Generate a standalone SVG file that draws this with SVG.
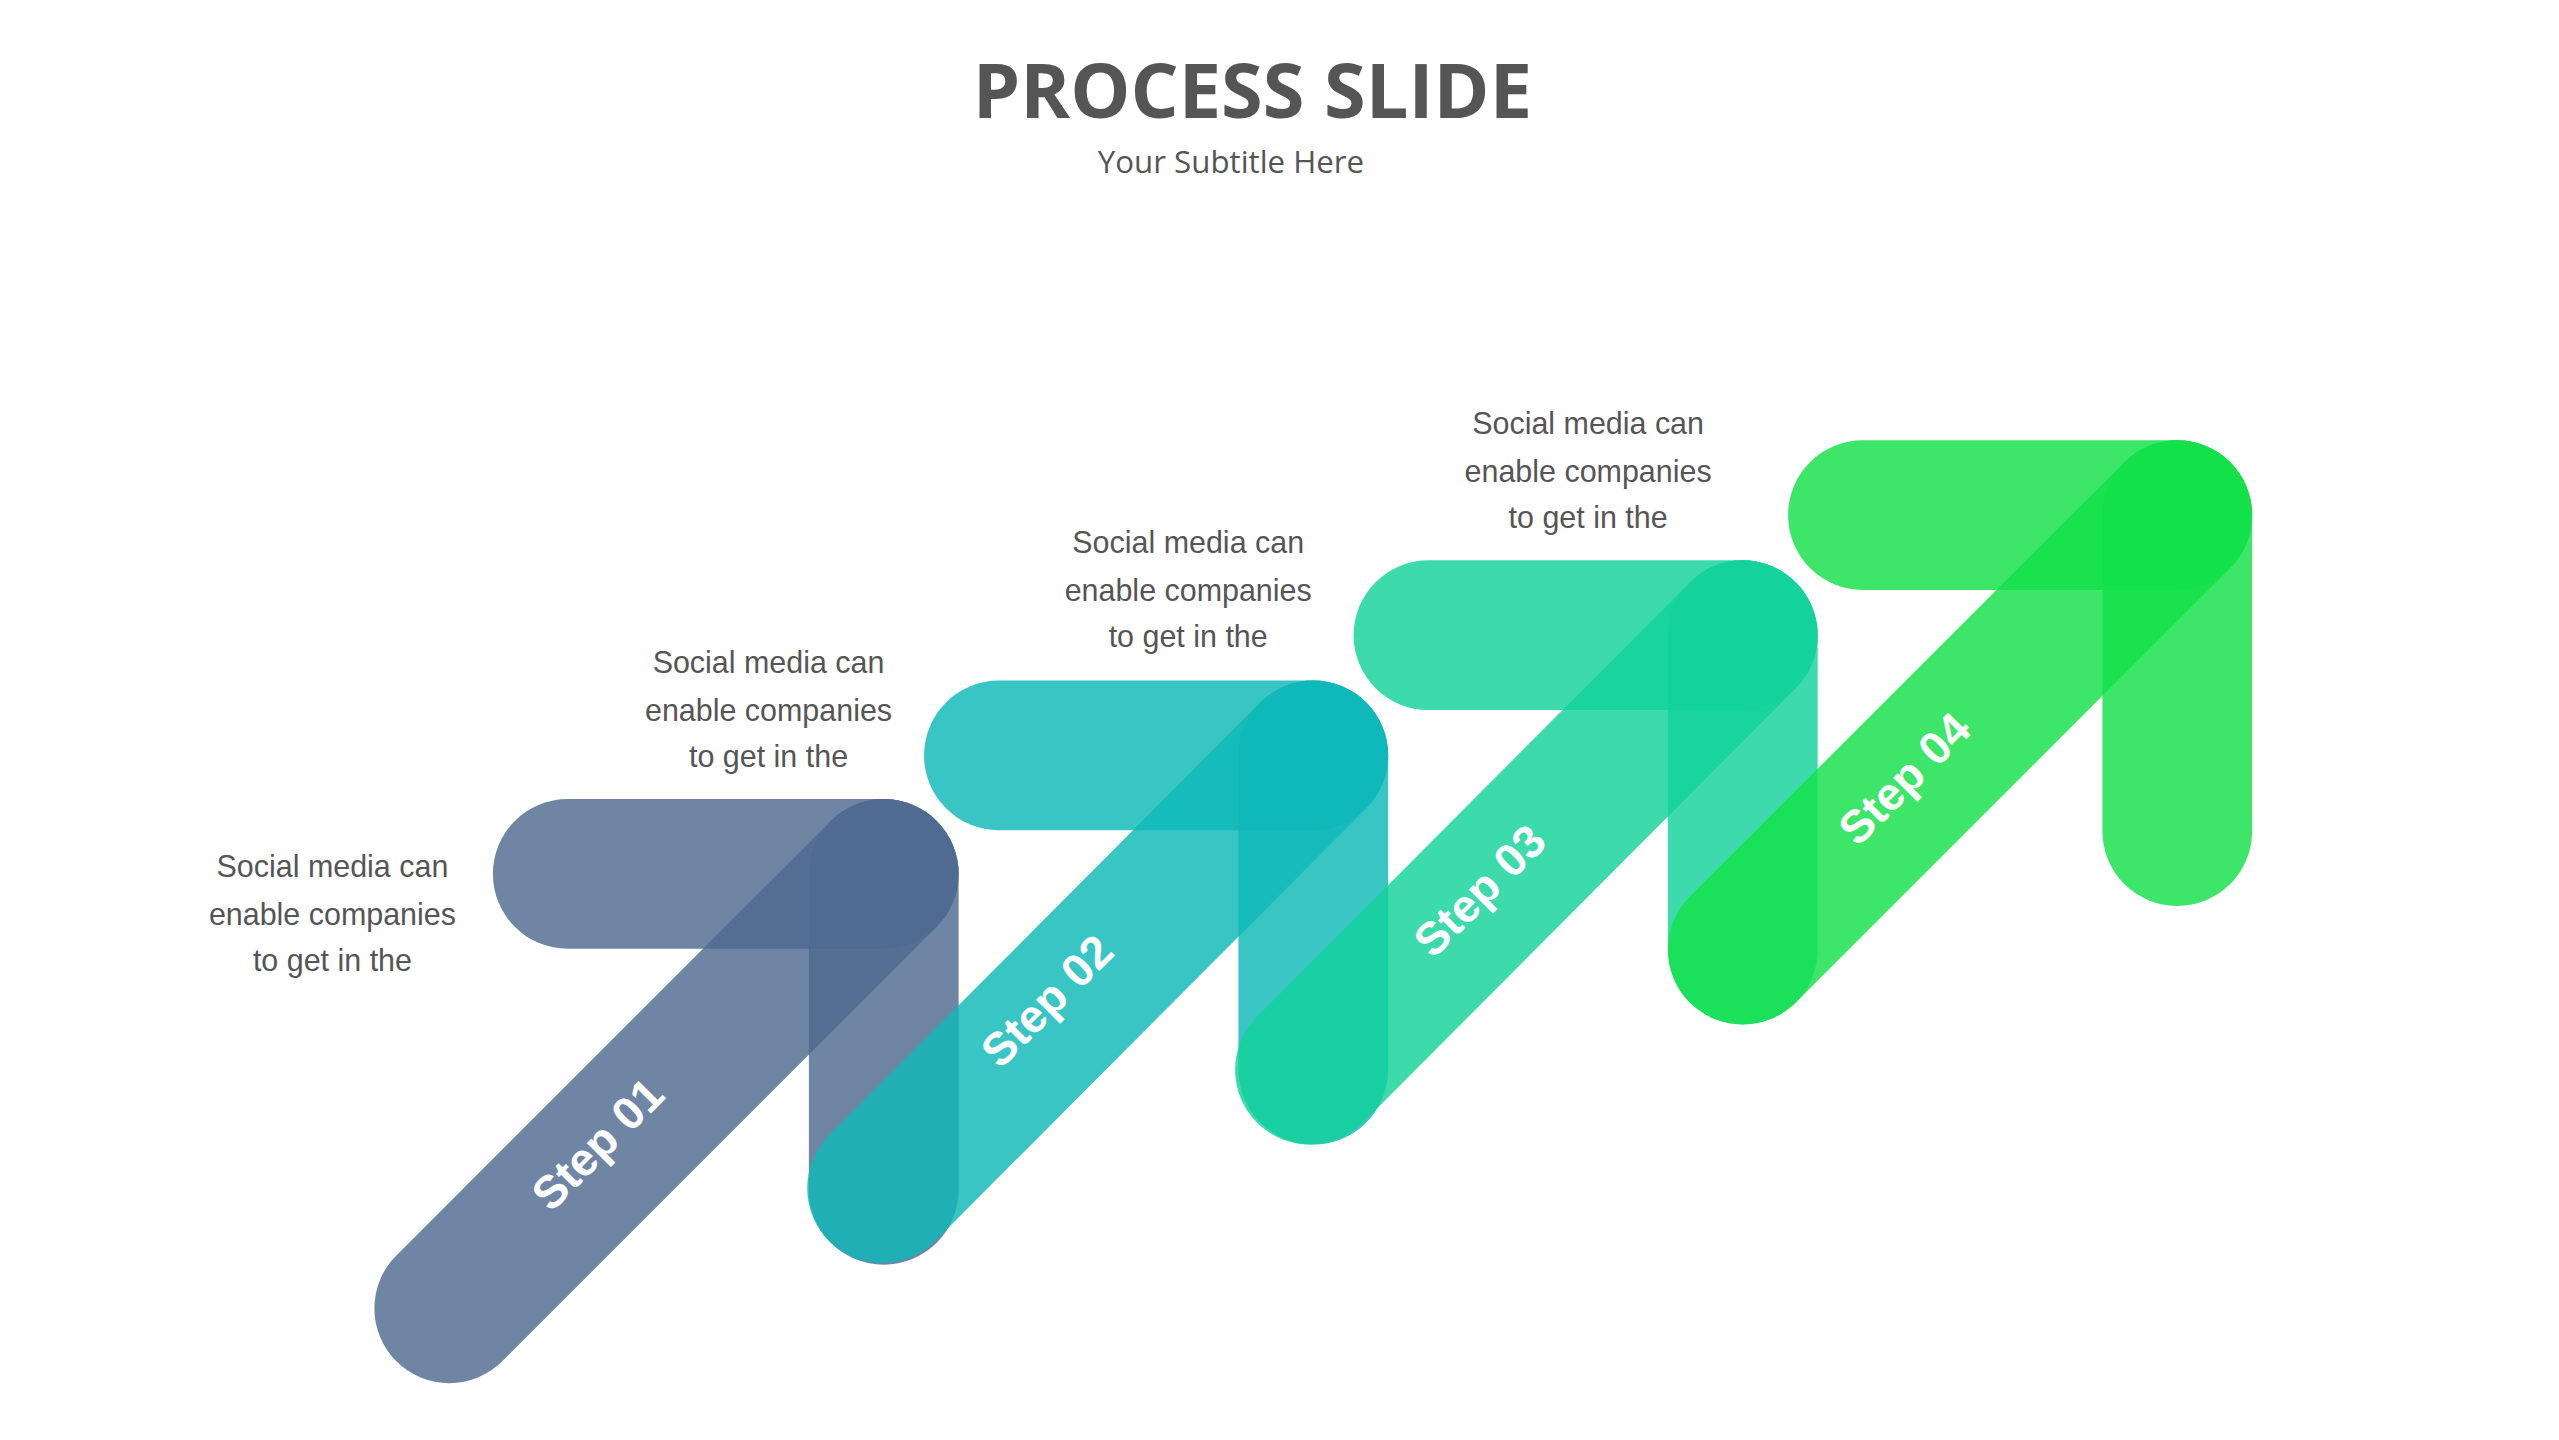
<svg xmlns="http://www.w3.org/2000/svg" width="2559" height="1440" viewBox="0 0 2559 1440">
<style>
.b{fill:none;stroke-width:91;stroke-linecap:round;opacity:0.82}
.s1{stroke:#4f6a90}.s2{stroke:#0fb8b8}.s3{stroke:#12d29a}.s4{stroke:#12e048}
.t{font-family:"Liberation Sans",Arial,sans-serif;font-size:18.5px;fill:#555;text-anchor:middle}
.l{font-family:"Liberation Sans",Arial,sans-serif;font-size:28px;font-weight:bold;fill:#fff;text-anchor:middle}
</style>
<rect width="2559" height="1440" fill="#fff"/>
<g transform="scale(1.6457)">
<g id="title">
<text x="761" y="72" text-anchor="middle" font-family="'Open Sans',sans-serif" font-weight="bold" font-size="46" fill="#555">PROCESS SLIDE</text>
<text x="748" y="105" text-anchor="middle" font-family="'Open Sans',sans-serif" font-size="19" fill="#555">Your Subtitle Here</text>
</g>
<g id="step1">
<line class="b s1" x1="345" y1="531" x2="537" y2="531"/>
<line class="b s1" x1="537" y1="531" x2="537" y2="723"/>
<line class="b s1" x1="273" y1="795" x2="537" y2="531"/>
<text class="l" transform="translate(370,702) rotate(-45)">Step 01</text>
<text class="t" x="202" y="533">Social media can</text><text class="t" x="202" y="562">enable companies</text><text class="t" x="202" y="590">to get in the</text>
</g>
<g id="step2">
<line class="b s2" x1="607" y1="459" x2="798" y2="459"/>
<line class="b s2" x1="798" y1="459" x2="798" y2="650"/>
<line class="b s2" x1="536" y1="722" x2="798" y2="459"/>
<text class="l" transform="translate(643,615) rotate(-45)">Step 02</text>
<text class="t" x="467" y="409">Social media can</text><text class="t" x="467" y="438">enable companies</text><text class="t" x="467" y="466">to get in the</text>
</g>
<g id="step3">
<line class="b s3" x1="868" y1="386" x2="1059" y2="386"/>
<line class="b s3" x1="1059" y1="386" x2="1059" y2="577"/>
<line class="b s3" x1="796" y1="650" x2="1059" y2="386"/>
<text class="l" transform="translate(906,548) rotate(-45)">Step 03</text>
<text class="t" x="722" y="336">Social media can</text><text class="t" x="722" y="365">enable companies</text><text class="t" x="722" y="393">to get in the</text>
</g>
<g id="step4">
<line class="b s4" x1="1132" y1="313" x2="1323" y2="313"/>
<line class="b s4" x1="1323" y1="313" x2="1323" y2="505"/>
<line class="b s4" x1="1059" y1="577" x2="1323" y2="313"/>
<text class="l" transform="translate(1164,480) rotate(-45)">Step 04</text>
<text class="t" x="965" y="264">Social media can</text><text class="t" x="965" y="293">enable companies</text><text class="t" x="965" y="321">to get in the</text>
</g>
</g>
</svg>
